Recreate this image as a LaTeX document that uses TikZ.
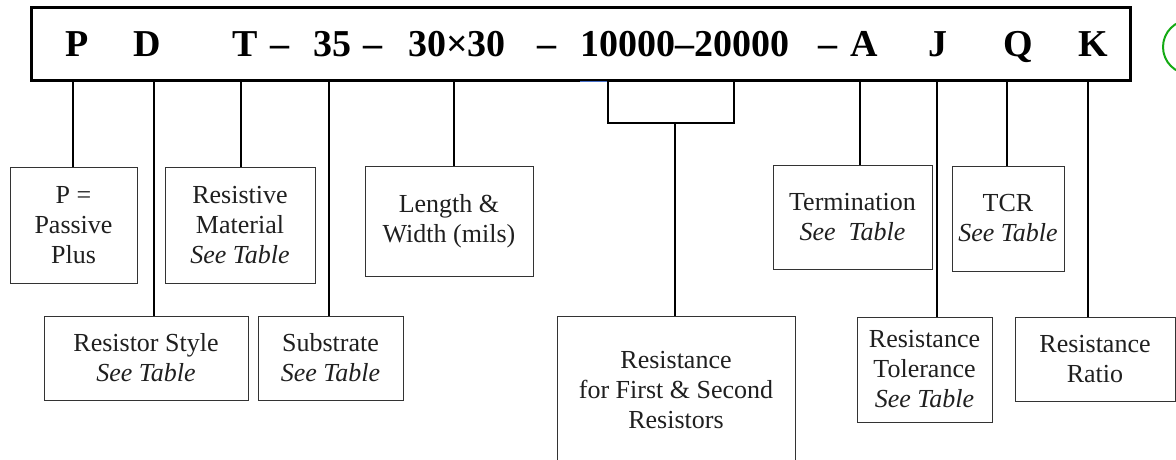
\documentclass[tikz,border=0pt]{standalone}
\usepackage{fontspec}
\setmainfont{Liberation Serif}
\begin{document}
\begin{tikzpicture}[x=1pt,y=-1pt,
  code/.style={anchor=base west,inner sep=0pt,font=\fontsize{38}{40}\selectfont\bfseries},
  infobox/.style={draw=black!80,line width=1pt,align=center,inner sep=0pt,text=black!88,
    font=\fontsize{26}{30}\selectfont},
  conn/.style={line width=2.6pt,line cap=butt}]
\useasboundingbox (0,0) rectangle (1176,460);
% top code box
\node[draw=black,line width=3pt,minimum width=1099pt,minimum height=73pt,inner sep=0pt] (top) at (580.5,44.5) {};
\node[code] (cP) at (65,57) {P};
\node[code] (cD) at (133,57) {D};
\node[code] (cT) at (232,57) {T};
\node[code] (d1) at (270,57) {–};
\node[code] (c35) at (313,57) {35};
\node[code] (d2) at (363,57) {–};
\node[code] (cLW) at (408,57) {30×30};
\node[code] (d3) at (537,57) {–};
\node[code] (cR) at (580,57) {10000–20000};
\node[code] (d4) at (818,57) {–};
\node[code] (cA) at (850,57) {A};
\node[code] (cJ) at (928,57) {J};
\node[code] (cQ) at (1003,57) {Q};
\node[code] (cK) at (1078,57) {K};
% partial green circle
\draw[draw={rgb,255:red,20;green,170;blue,20},line width=2pt] (1190,47) circle[radius=27];
% small blue mark
\draw[draw={rgb,255:red,70;green,110;blue,200},line width=1pt] (580,82) -- (607,82);
% boxes
\node[infobox,minimum width=127pt,minimum height=116pt] (bP) at (73.5,225) {P =\\Passive\\Plus};
\node[infobox,minimum width=204pt,minimum height=84pt] (bRS) at (146,358) {Resistor Style\\\textit{See Table}};
\node[infobox,minimum width=150pt,minimum height=116pt] (bRM) at (240,225) {Resistive\\Material\\\textit{See Table}};
\node[infobox,minimum width=145pt,minimum height=84pt] (bSub) at (330.5,358) {Substrate\\\textit{See Table}};
\node[infobox,minimum width=168pt,minimum height=110pt] (bLW) at (449,221) {Length \&\\Width (mils)};
\node[infobox,minimum width=238pt,minimum height=148pt] (bRes) at (676,390) {Resistance\\for First \& Second\\Resistors};
\node[infobox,minimum width=159pt,minimum height=104pt] (bTerm) at (852.5,217) {Termination\\\textit{See\ \ Table}};
\node[infobox,minimum width=112pt,minimum height=105pt] (bTCR) at (1008,218.5) {TCR\\\textit{See Table}};
\node[infobox,minimum width=135pt,minimum height=105pt] (bTol) at (924.5,369.5) {Resistance\\Tolerance\\\textit{See Table}};
\node[infobox,minimum width=160pt,minimum height=84pt] (bRat) at (1095,359) {Resistance\\Ratio};
% connector x positions
\coordinate (xP) at (73,0);
\coordinate (xD) at (154,0);
\coordinate (xT) at (241,0);
\coordinate (x35) at (329,0);
\coordinate (xLW) at (454,0);
\coordinate (xA) at (860,0);
\coordinate (xJ) at (937,0);
\coordinate (xQ) at (1007,0);
\coordinate (xK) at (1088,0);
\coordinate (brkL) at (608,123);
\coordinate (brkR) at (734,123);
\coordinate (brk) at (675,123);
% connectors
\draw[conn] (xP |- top.south) -- (xP |- bP.north);
\draw[conn] (xD |- top.south) -- (xD |- bRS.north);
\draw[conn] (xT |- top.south) -- (xT |- bRM.north);
\draw[conn] (x35 |- top.south) -- (x35 |- bSub.north);
\draw[conn] (xLW |- top.south) -- (xLW |- bLW.north);
\draw[conn] (brkL |- top.south) -- (brkL) -- (brkR) -- (brkR |- top.south);
\draw[conn] (brk) -- (brk |- bRes.north);
\draw[conn] (xA |- top.south) -- (xA |- bTerm.north);
\draw[conn] (xJ |- top.south) -- (xJ |- bTol.north);
\draw[conn] (xQ |- top.south) -- (xQ |- bTCR.north);
\draw[conn] (xK |- top.south) -- (xK |- bRat.north);
\end{tikzpicture}
\end{document}
